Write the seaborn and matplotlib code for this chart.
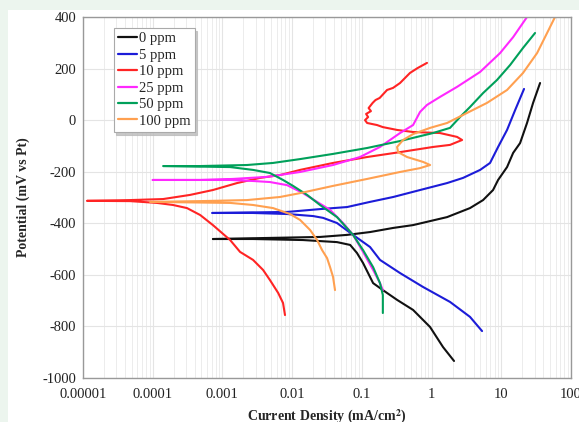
import matplotlib
matplotlib.use("Agg")
import matplotlib.pyplot as plt
import matplotlib.ticker as mticker
from matplotlib.patches import Rectangle
import seaborn as sns
import pandas as pd

# ---- data (current density in mA/cm^2, potential in mV vs Pt) ----
labels = ["0 ppm", "5 ppm", "10 ppm", "25 ppm", "50 ppm", "100 ppm"]
colors = ["#111111", "#1c1cd8", "#ff2424", "#ff28ff", "#00a05a", "#ffa050"]

i_0ppm = [2.10, 1.46, 0.95, 0.543, 0.32, 0.20, 0.145, 0.104, 0.085, 0.068, 0.044, 0.0143, 0.00275, 0.00073,
          0.0251, 0.0614, 0.131, 0.282, 0.543, 1.67, 3.56, 5.48, 7.62, 9.0, 12.1, 14.8, 18.6, 23.4, 28.6, 36.0]
e_0ppm = [-934, -880, -802, -736, -697, -659, -632, -554, -515, -484, -473, -465, -461, -461,
          -453, -445, -434, -418, -407, -376, -341, -310, -271, -232, -182, -127, -89, -11, 67, 144]

i_5ppm = [5.3, 3.56, 1.84, 0.755, 0.353, 0.182, 0.131, 0.0748, 0.044, 0.0278, 0.0200, 0.00845, 0.00275, 0.00071,
          0.00845, 0.0251, 0.0614, 0.131, 0.282, 0.684, 1.67, 2.83, 4.97, 6.9, 9.0, 12.1, 15.8, 21.2]
e_5ppm = [-818, -763, -705, -647, -593, -542, -492, -445, -399, -379, -372, -364, -360, -360,
          -356, -345, -337, -317, -298, -271, -244, -224, -193, -166, -104, -38, 39, 121]

i_10ppm = [0.0079, 0.0074, 0.0063, 0.0048, 0.00383, 0.00275, 0.00179, 0.00129, 0.00073, 0.00048, 0.00031,
           0.000195, 0.000115, 0.0000472, 0.0000114,
           0.0000472, 0.000141, 0.000343, 0.00073, 0.00162, 0.00346, 0.0067, 0.0130, 0.0386, 0.119, 0.353,
           1.05, 1.84, 2.74, 2.32, 1.32, 0.543, 0.32, 0.20, 0.165, 0.119, 0.111,
           0.123, 0.115, 0.135, 0.125, 0.143, 0.157, 0.18, 0.23, 0.28, 0.353, 0.49, 0.63, 0.86]
e_10ppm = [-756, -709, -670, -620, -581, -542, -511, -465, -407, -368, -341,
           -329, -321, -314, -313,
           -310, -306, -290, -271, -244, -224, -213, -193, -166, -143, -124,
           -104, -96, -77, -65, -50, -46, -38, -27, -19, -11, 0,
           12, 24, 35, 47, 67, 78, 86, 117, 125, 144, 183, 202, 222]

i_25ppm = [0.20, 0.182, 0.145, 0.104, 0.0748, 0.0537, 0.035, 0.0228, 0.0143, 0.00845, 0.0048, 0.00275, 0.00129, 0.0001,
           0.00048, 0.00142, 0.00437, 0.0130, 0.0386, 0.094, 0.182, 0.353, 0.543, 0.684, 0.86, 1.32, 2.32, 4.97,
           9.6, 14.8, 23.4, 25.5]
e_25ppm = [-659, -632, -581, -511, -445, -399, -348, -317, -283, -252, -240, -236, -232, -232,
           -232, -228, -220, -201, -174, -143, -104, -50, -19, 32, 59, 90, 129, 187,
           260, 322, 400, 415]

i_50ppm = [0.20, 0.20, 0.182, 0.145, 0.104, 0.0748, 0.044, 0.0251, 0.0164, 0.0103, 0.0074, 0.0048, 0.00275, 0.00129,
           0.000141,
           0.00048, 0.00225, 0.00532, 0.0130, 0.0386, 0.119, 0.353, 1.05, 1.84, 2.56, 3.56, 5.48, 8.7, 13.4, 20.5, 30.5]
e_50ppm = [-748, -678, -632, -570, -504, -445, -376, -329, -290, -255, -232, -205, -193, -182,
           -178,
           -178, -174, -166, -151, -131, -108, -81, -50, -30, 12, 51, 105, 156, 214, 280, 338]

i_100ppm = [0.0412, 0.0386, 0.035, 0.0317, 0.0269, 0.0228, 0.0181, 0.0130, 0.0093, 0.00532, 0.00275, 0.00129,
            0.0000914,
            0.00048, 0.00225, 0.0067, 0.0130, 0.0386, 0.119, 0.353, 0.684, 0.953, 0.755, 0.445, 0.331, 0.32,
            0.39, 0.543, 0.953, 1.67, 3.23, 6.25, 12.1, 20.5, 32.6, 45.4, 59.0, 62.0]
e_100ppm = [-659, -608, -570, -535, -504, -465, -426, -387, -364, -341, -329, -321,
            -317,
            -314, -310, -298, -283, -255, -228, -201, -186, -174, -162, -143, -124, -104,
            -77, -54, -30, -11, 28, 67, 117, 183, 260, 338, 400, 412]

x_ticks = [0.00001, 0.0001, 0.001, 0.01, 0.1, 1, 10, 100]
x_tick_labels = ["0.00001", "0.0001", "0.001", "0.01", "0.1", "1", "10", "100"]
y_ticks = [-1000, -800, -600, -400, -200, 0, 200, 400]

series = [(i_0ppm, e_0ppm), (i_5ppm, e_5ppm), (i_10ppm, e_10ppm),
          (i_25ppm, e_25ppm), (i_50ppm, e_50ppm), (i_100ppm, e_100ppm)]

rows = []
for lab, (xs, ys) in zip(labels, series):
    for k, (a, b) in enumerate(zip(xs, ys)):
        rows.append({"conc": lab, "order": k, "i": a, "E": b})
df = pd.DataFrame(rows)

# ---- style ----
sns.set_theme(style="white")
plt.rcParams["font.family"] = ["Liberation Serif", "DejaVu Serif"]
plt.rcParams["mathtext.fontset"] = "stix"
plt.rcParams["axes.unicode_minus"] = False

fig = plt.figure(figsize=(5.79, 4.22), dpi=100)
fig.patch.set_facecolor("#ecf5ee")
fig.patches.append(Rectangle((8 / 579, 0), 1 - 8 / 579, 1 - 10 / 422, transform=fig.transFigure,
                             facecolor="white", edgecolor="none", zorder=-5))
ax = fig.add_axes([83 / 579, 44 / 422, 488 / 579, 361 / 422])
ax.set_facecolor("white")

sns.lineplot(data=df, x="i", y="E", hue="conc", hue_order=labels, palette=colors,
             sort=False, estimator=None, linewidth=1.5, ax=ax, legend=False)

ax.set_xscale("log")
ax.set_xlim(1e-5, 100)
ax.set_ylim(-1000, 400)
ax.set_xticks(x_ticks)
ax.set_xticklabels(x_tick_labels)
ax.xaxis.set_minor_locator(mticker.LogLocator(base=10, subs=range(2, 10), numticks=20))
ax.xaxis.set_minor_formatter(mticker.NullFormatter())
ax.set_yticks(y_ticks)
ax.yaxis.set_minor_locator(mticker.MultipleLocator(40))

ax.grid(which="major", axis="both", color="#e4e4e4", linewidth=0.8)
ax.grid(which="minor", axis="x", color="#ececec", linewidth=0.7)
ax.set_axisbelow(True)

ax.tick_params(which="both", direction="in", colors="#777777", labelcolor="#222222",
               labelsize=10.5, top=False, right=False)
ax.tick_params(which="major", length=4)
ax.tick_params(which="minor", length=2.5)
ax.tick_params(axis="x", pad=7)
ax.tick_params(axis="y", pad=5)
for sp in ax.spines.values():
    sp.set_color("#999999")
    sp.set_linewidth(1.0)

ax.set_xlabel("Current Density (mA/cm$^\\mathbf{2}$)", fontsize=10, fontweight="bold", labelpad=5)
ax.set_ylabel("Potential (mV vs Pt)", fontsize=10, fontweight="bold", labelpad=9)

handles = [plt.Line2D([], [], color=c, linewidth=1.6) for c in colors]
leg = ax.legend(handles, labels, loc="upper left", bbox_to_anchor=(0.048, 0.99),
                frameon=True, fancybox=False, edgecolor="#aaaaaa", fontsize=10.5,
                handlelength=1.3, handletextpad=0.1, labelspacing=0.22, borderpad=0.3,
                shadow={"ox": 2, "oy": -2, "color": "#bbbbbb", "alpha": 0.8})
leg.get_frame().set_linewidth(0.8)

fig.savefig("out.png", dpi=100, facecolor=fig.get_facecolor())
